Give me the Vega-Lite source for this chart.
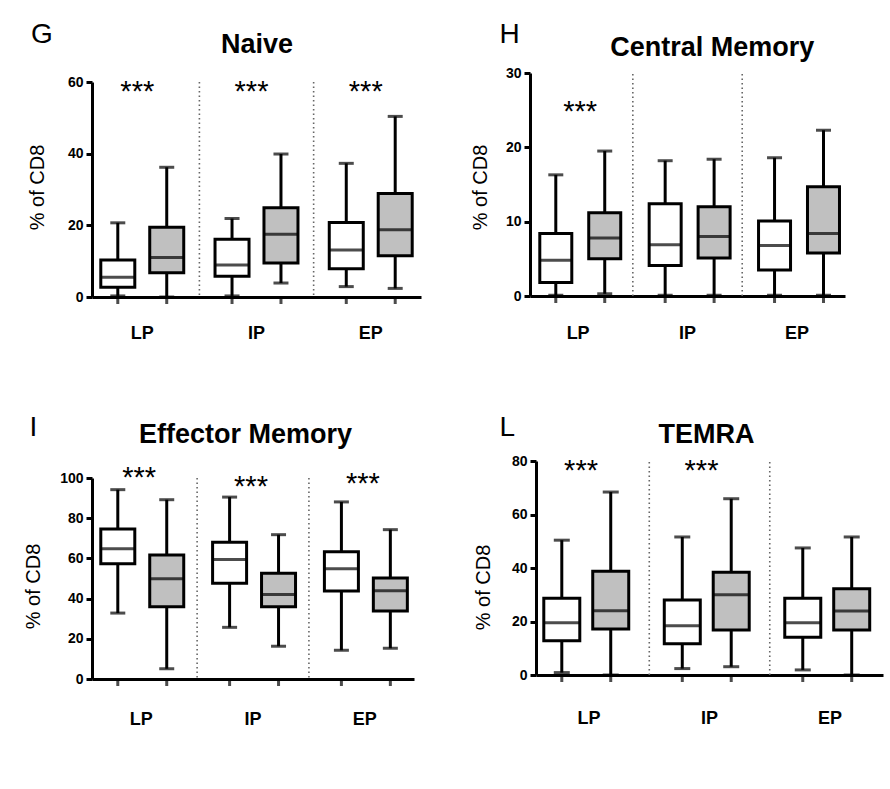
{
  "$schema": "https://vega.github.io/schema/vega-lite/v6.json",
  "padding": {"left": 23, "top": 20, "right": 5, "bottom": 5},
  "background": "white",
  "datasets": {
    "boxes": [
      {"panel": "Naive", "group": "LP", "cond": "A", "min": 0.3, "q1": 2.7, "median": 5.5, "q3": 10.3, "max": 20.7},
      {"panel": "Naive", "group": "LP", "cond": "B", "min": 0, "q1": 6.8, "median": 11, "q3": 19.5, "max": 36.2},
      {"panel": "Naive", "group": "IP", "cond": "A", "min": 0.3, "q1": 5.8, "median": 8.9, "q3": 16.1, "max": 21.9},
      {"panel": "Naive", "group": "IP", "cond": "B", "min": 3.9, "q1": 9.5, "median": 17.5, "q3": 24.9, "max": 39.9},
      {"panel": "Naive", "group": "EP", "cond": "A", "min": 2.9, "q1": 7.9, "median": 13.1, "q3": 20.8, "max": 37.3},
      {"panel": "Naive", "group": "EP", "cond": "B", "min": 2.4, "q1": 11.5, "median": 18.8, "q3": 28.9, "max": 50.4},
      {"panel": "Central Memory", "group": "LP", "cond": "A", "min": 0.1, "q1": 1.8, "median": 4.8, "q3": 8.4, "max": 16.3},
      {"panel": "Central Memory", "group": "LP", "cond": "B", "min": 0.3, "q1": 5.0, "median": 7.8, "q3": 11.2, "max": 19.5},
      {"panel": "Central Memory", "group": "IP", "cond": "A", "min": 0.1, "q1": 4.1, "median": 6.9, "q3": 12.4, "max": 18.2},
      {"panel": "Central Memory", "group": "IP", "cond": "B", "min": 0.1, "q1": 5.1, "median": 8.0, "q3": 12.0, "max": 18.4},
      {"panel": "Central Memory", "group": "EP", "cond": "A", "min": 0.1, "q1": 3.5, "median": 6.8, "q3": 10.1, "max": 18.6},
      {"panel": "Central Memory", "group": "EP", "cond": "B", "min": 0.1, "q1": 5.8, "median": 8.4, "q3": 14.7, "max": 22.3},
      {"panel": "Effector Memory", "group": "LP", "cond": "A", "min": 32.8, "q1": 57.4, "median": 64.8, "q3": 74.6, "max": 94.2},
      {"panel": "Effector Memory", "group": "LP", "cond": "B", "min": 5.1, "q1": 36.0, "median": 49.9, "q3": 61.7, "max": 89.2},
      {"panel": "Effector Memory", "group": "IP", "cond": "A", "min": 25.7, "q1": 47.6, "median": 59.4, "q3": 68.0, "max": 90.5},
      {"panel": "Effector Memory", "group": "IP", "cond": "B", "min": 16.3, "q1": 36.0, "median": 42.0, "q3": 52.6, "max": 71.8},
      {"panel": "Effector Memory", "group": "EP", "cond": "A", "min": 14.3, "q1": 43.8, "median": 54.9, "q3": 63.3, "max": 88.1},
      {"panel": "Effector Memory", "group": "EP", "cond": "B", "min": 15.3, "q1": 33.8, "median": 43.9, "q3": 50.2, "max": 74.3},
      {"panel": "TEMRA", "group": "LP", "cond": "A", "min": 0.9, "q1": 12.8, "median": 19.5, "q3": 28.7, "max": 50.4},
      {"panel": "TEMRA", "group": "LP", "cond": "B", "min": 0, "q1": 17.2, "median": 24.0, "q3": 38.8, "max": 68.4},
      {"panel": "TEMRA", "group": "IP", "cond": "A", "min": 2.4, "q1": 11.7, "median": 18.4, "q3": 28.0, "max": 51.6},
      {"panel": "TEMRA", "group": "IP", "cond": "B", "min": 3.1, "q1": 16.8, "median": 30.0, "q3": 38.4, "max": 65.9},
      {"panel": "TEMRA", "group": "EP", "cond": "A", "min": 1.9, "q1": 14.1, "median": 19.5, "q3": 28.7, "max": 47.5},
      {"panel": "TEMRA", "group": "EP", "cond": "B", "min": 0, "q1": 16.8, "median": 23.9, "q3": 32.2, "max": 51.6}
    ],
    "stars": [
      {"panel": "Naive", "group": "LP", "label": "***", "level": 58.9},
      {"panel": "Naive", "group": "IP", "label": "***", "level": 58.9},
      {"panel": "Naive", "group": "EP", "label": "***", "level": 58.9},
      {"panel": "Central Memory", "group": "LP", "label": "***", "level": 25.6},
      {"panel": "Effector Memory", "group": "LP", "label": "***", "level": 103},
      {"panel": "Effector Memory", "group": "IP", "label": "***", "level": 98.5},
      {"panel": "Effector Memory", "group": "EP", "label": "***", "level": 100.1},
      {"panel": "TEMRA", "group": "LP", "label": "***", "level": 78.5},
      {"panel": "TEMRA", "group": "IP", "label": "***", "level": 78.5}
    ],
    "dividers": [
      {"group": "IP"},
      {"group": "EP"}
    ]
  },
  "config": {
    "view": {"stroke": null},
    "font": "Liberation Sans",
    "axis": {
      "grid": false,
      "labelFont": "Liberation Sans",
      "labelColor": "black",
      "titleFont": "Liberation Sans",
      "titleColor": "black",
      "domainColor": "black",
      "domainWidth": 3,
      "tickColor": "black",
      "tickWidth": 3
    }
  },
  "spacing": 71,
  "vconcat": [
    {
      "spacing": 49,
      "hconcat": [
        {
          "width": 329, "height": 215,
          "data": {"name": "boxes"},
          "transform": [{"filter": "datum.panel === 'Naive'"}],
          "resolve": {"axis": {"x": "independent", "y": "independent"}},
          "layer": [
            {"data": {"name": "dividers"}, "mark": {"type": "rule", "color": "#666666", "strokeDash": [1.5, 3], "strokeWidth": 1.6},
             "encoding": {"x": {"field": "group", "type": "nominal", "bandPosition": -0.068, "axis": null, "scale": {"domain": ["LP", "IP", "EP"], "paddingInner": 0.12, "paddingOuter": 0}}}},
            {"mark": {"type": "rule", "color": "black", "strokeWidth": 3},
             "encoding": {
               "x": {"field": "group", "type": "nominal", "scale": {"domain": ["LP", "IP", "EP"], "paddingInner": 0.12, "paddingOuter": 0},
                     "axis": {"orient": "bottom", "title": null, "ticks": false, "tickSize": 0, "labelAngle": 0, "labelFontSize": 18, "labelFontWeight": "bold", "labelBaseline": "alphabetic", "labelPadding": 41}},
               "xOffset": {"field": "cond", "type": "nominal", "scale": {"domain": ["A", "B"], "paddingInner": 0, "paddingOuter": 0.027}},
               "y": {"field": "min", "type": "quantitative", "scale": {"domain": [0, 60], "nice": false},
                     "axis": {"orient": "left", "values": [0, 20, 40, 60], "title": "% of CD8", "titleFontSize": 20, "titleFontWeight": "normal", "titleAngle": 270, "titleAlign": "center", "titleBaseline": "alphabetic", "titleX": -49, "titleY": 105, "labelFontSize": 14, "labelFontWeight": "bold", "labelPadding": 3, "tickSize": 6}},
               "y2": {"field": "max"}
             }},
            {"mark": {"type": "tick", "orient": "vertical", "color": "black", "thickness": 3, "size": 7, "yOffset": 3.5},
             "encoding": {
               "x": {"field": "group", "type": "nominal", "axis": null},
               "xOffset": {"field": "cond", "type": "nominal"},
               "y": {"datum": 0, "type": "quantitative", "axis": null}
             }},
            {"mark": {"type": "bar", "width": 34, "stroke": "black", "strokeWidth": 3, "fillOpacity": 1},
             "encoding": {
               "x": {"field": "group", "type": "nominal",
                     "axis": {"orient": "top", "title": "Naive", "labels": false, "ticks": false, "domain": false, "titleFontSize": 27, "titleFontWeight": "bold", "titleAngle": 0, "titleAlign": "center", "titleBaseline": "alphabetic", "titleX": 164.5, "titleY": -30}},
               "xOffset": {"field": "cond", "type": "nominal"},
               "y": {"field": "q1", "type": "quantitative",
                     "axis": {"orient": "right", "title": "G", "labels": false, "ticks": false, "domain": false, "titleFontSize": 28, "titleFontWeight": "normal", "titleAngle": 0, "titleAlign": "left", "titleBaseline": "alphabetic", "titleX": -390.5, "titleY": -40}},
               "y2": {"field": "q3"},
               "color": {"field": "cond", "type": "nominal", "scale": {"domain": ["A", "B"], "range": ["white", "#c0c0c0"]}, "legend": null}
             }},
            {"mark": {"type": "tick", "color": "black", "thickness": 3, "size": 34},
             "encoding": {
               "x": {"field": "group", "type": "nominal", "axis": null},
               "xOffset": {"field": "cond", "type": "nominal"},
               "y": {"field": "median", "type": "quantitative", "axis": null}
             }},
            {"mark": {"type": "tick", "color": "black", "thickness": 3, "size": 15},
             "encoding": {
               "x": {"field": "group", "type": "nominal", "axis": null},
               "xOffset": {"field": "cond", "type": "nominal"},
               "y": {"field": "min", "type": "quantitative", "axis": null}
             }},
            {"mark": {"type": "tick", "color": "black", "thickness": 3, "size": 15},
             "encoding": {
               "x": {"field": "group", "type": "nominal", "axis": null},
               "xOffset": {"field": "cond", "type": "nominal"},
               "y": {"field": "max", "type": "quantitative", "axis": null}
             }},
            {"data": {"name": "stars"}, "transform": [{"filter": "datum.panel === 'Naive'"}],
             "mark": {"type": "text", "fontSize": 29, "baseline": "middle", "dx": -5, "dy": 6, "color": "black"},
             "encoding": {
               "x": {"field": "group", "type": "nominal", "axis": null},
               "y": {"field": "level", "type": "quantitative", "axis": null},
               "text": {"field": "label"}
             }}
          ]
        },
        {
          "width": 315, "height": 214,
          "data": {"name": "boxes"},
          "transform": [{"filter": "datum.panel === 'Central Memory'"}],
          "resolve": {"axis": {"x": "independent", "y": "independent"}},
          "layer": [
            {"data": {"name": "dividers"}, "mark": {"type": "rule", "color": "#666666", "strokeDash": [1.5, 3], "strokeWidth": 1.6},
             "encoding": {
               "x": {"field": "group", "type": "nominal", "bandPosition": -0.068, "axis": null, "scale": {"domain": ["LP", "IP", "EP"], "paddingInner": 0.12, "paddingOuter": 0}},
               "y": {"datum": 0, "type": "quantitative", "axis": null},
               "y2": {"datum": 30}
             }},
            {"mark": {"type": "rule", "color": "black", "strokeWidth": 3},
             "encoding": {
               "x": {"field": "group", "type": "nominal", "scale": {"domain": ["LP", "IP", "EP"], "paddingInner": 0.12, "paddingOuter": 0},
                     "axis": {"orient": "bottom", "title": null, "ticks": false, "tickSize": 0, "labelAngle": 0, "labelFontSize": 18, "labelFontWeight": "bold", "labelBaseline": "alphabetic", "labelPadding": 42}},
               "xOffset": {"field": "cond", "type": "nominal", "scale": {"domain": ["A", "B"], "paddingInner": 0, "paddingOuter": 0.027}},
               "y": {"field": "min", "type": "quantitative", "scale": {"domain": [0, 30], "nice": false, "range": [214, -9]},
                     "axis": {"orient": "left", "values": [0, 10, 20, 30], "title": "% of CD8", "titleFontSize": 20, "titleFontWeight": "normal", "titleAngle": 270, "titleAlign": "center", "titleBaseline": "alphabetic", "titleX": -44, "titleY": 105, "labelFontSize": 14, "labelFontWeight": "bold", "labelPadding": 3, "tickSize": 6}},
               "y2": {"field": "max"}
             }},
            {"mark": {"type": "tick", "orient": "vertical", "color": "black", "thickness": 3, "size": 7, "yOffset": 3.5},
             "encoding": {
               "x": {"field": "group", "type": "nominal", "axis": null},
               "xOffset": {"field": "cond", "type": "nominal"},
               "y": {"datum": 0, "type": "quantitative", "axis": null}
             }},
            {"mark": {"type": "bar", "width": 32, "stroke": "black", "strokeWidth": 3, "fillOpacity": 1},
             "encoding": {
               "x": {"field": "group", "type": "nominal",
                     "axis": {"orient": "top", "title": "Central Memory", "labels": false, "ticks": false, "domain": false, "titleFontSize": 27, "titleFontWeight": "bold", "titleAngle": 0, "titleAlign": "center", "titleBaseline": "alphabetic", "titleX": 181.7, "titleY": -27}},
               "xOffset": {"field": "cond", "type": "nominal"},
               "y": {"field": "q1", "type": "quantitative",
                     "axis": {"orient": "right", "title": "H", "labels": false, "ticks": false, "domain": false, "titleFontSize": 28, "titleFontWeight": "normal", "titleAngle": 0, "titleAlign": "left", "titleBaseline": "alphabetic", "titleX": -346, "titleY": -40}},
               "y2": {"field": "q3"},
               "color": {"field": "cond", "type": "nominal", "scale": {"domain": ["A", "B"], "range": ["white", "#c0c0c0"]}, "legend": null}
             }},
            {"mark": {"type": "tick", "color": "black", "thickness": 3, "size": 32},
             "encoding": {
               "x": {"field": "group", "type": "nominal", "axis": null},
               "xOffset": {"field": "cond", "type": "nominal"},
               "y": {"field": "median", "type": "quantitative", "axis": null}
             }},
            {"mark": {"type": "tick", "color": "black", "thickness": 3, "size": 15},
             "encoding": {
               "x": {"field": "group", "type": "nominal", "axis": null},
               "xOffset": {"field": "cond", "type": "nominal"},
               "y": {"field": "min", "type": "quantitative", "axis": null}
             }},
            {"mark": {"type": "tick", "color": "black", "thickness": 3, "size": 15},
             "encoding": {
               "x": {"field": "group", "type": "nominal", "axis": null},
               "xOffset": {"field": "cond", "type": "nominal"},
               "y": {"field": "max", "type": "quantitative", "axis": null}
             }},
            {"data": {"name": "stars"}, "transform": [{"filter": "datum.panel === 'Central Memory'"}],
             "mark": {"type": "text", "fontSize": 29, "baseline": "middle", "dx": 2, "dy": 6, "color": "black"},
             "encoding": {
               "x": {"field": "group", "type": "nominal", "axis": null},
               "y": {"field": "level", "type": "quantitative", "axis": null},
               "text": {"field": "label"}
             }}
          ]
        }
      ]
    },
    {
      "spacing": 59,
      "hconcat": [
        {
          "width": 322, "height": 201,
          "data": {"name": "boxes"},
          "transform": [{"filter": "datum.panel === 'Effector Memory'"}],
          "resolve": {"axis": {"x": "independent", "y": "independent"}},
          "layer": [
            {"data": {"name": "dividers"}, "mark": {"type": "rule", "color": "#666666", "strokeDash": [1.5, 3], "strokeWidth": 1.6},
             "encoding": {"x": {"field": "group", "type": "nominal", "bandPosition": -0.068, "axis": null, "scale": {"domain": ["LP", "IP", "EP"], "paddingInner": 0.12, "paddingOuter": 0}}}},
            {"mark": {"type": "rule", "color": "black", "strokeWidth": 3},
             "encoding": {
               "x": {"field": "group", "type": "nominal", "scale": {"domain": ["LP", "IP", "EP"], "paddingInner": 0.12, "paddingOuter": 0},
                     "axis": {"orient": "bottom", "title": null, "ticks": false, "tickSize": 0, "labelAngle": 0, "labelFontSize": 18, "labelFontWeight": "bold", "labelBaseline": "alphabetic", "labelPadding": 45}},
               "xOffset": {"field": "cond", "type": "nominal", "scale": {"domain": ["A", "B"], "paddingInner": 0, "paddingOuter": 0.027}},
               "y": {"field": "min", "type": "quantitative", "scale": {"domain": [0, 100], "nice": false},
                     "axis": {"orient": "left", "values": [0, 20, 40, 60, 80, 100], "title": "% of CD8", "titleFontSize": 20, "titleFontWeight": "normal", "titleAngle": 270, "titleAlign": "center", "titleBaseline": "alphabetic", "titleX": -52.7, "titleY": 108, "labelFontSize": 14, "labelFontWeight": "bold", "labelPadding": 3, "tickSize": 6}},
               "y2": {"field": "max"}
             }},
            {"mark": {"type": "tick", "orient": "vertical", "color": "black", "thickness": 3, "size": 7, "yOffset": 3.5},
             "encoding": {
               "x": {"field": "group", "type": "nominal", "axis": null},
               "xOffset": {"field": "cond", "type": "nominal"},
               "y": {"datum": 0, "type": "quantitative", "axis": null}
             }},
            {"mark": {"type": "bar", "width": 34, "stroke": "black", "strokeWidth": 3, "fillOpacity": 1},
             "encoding": {
               "x": {"field": "group", "type": "nominal",
                     "axis": {"orient": "top", "title": "Effector Memory", "labels": false, "ticks": false, "domain": false, "titleFontSize": 27, "titleFontWeight": "bold", "titleAngle": 0, "titleAlign": "center", "titleBaseline": "alphabetic", "titleX": 153, "titleY": -36}},
               "xOffset": {"field": "cond", "type": "nominal"},
               "y": {"field": "q1", "type": "quantitative",
                     "axis": {"orient": "right", "title": "I", "labels": false, "ticks": false, "domain": false, "titleFontSize": 28, "titleFontWeight": "normal", "titleAngle": 0, "titleAlign": "left", "titleBaseline": "alphabetic", "titleX": -385, "titleY": -43}},
               "y2": {"field": "q3"},
               "color": {"field": "cond", "type": "nominal", "scale": {"domain": ["A", "B"], "range": ["white", "#c0c0c0"]}, "legend": null}
             }},
            {"mark": {"type": "tick", "color": "black", "thickness": 3, "size": 34},
             "encoding": {
               "x": {"field": "group", "type": "nominal", "axis": null},
               "xOffset": {"field": "cond", "type": "nominal"},
               "y": {"field": "median", "type": "quantitative", "axis": null}
             }},
            {"mark": {"type": "tick", "color": "black", "thickness": 3, "size": 15},
             "encoding": {
               "x": {"field": "group", "type": "nominal", "axis": null},
               "xOffset": {"field": "cond", "type": "nominal"},
               "y": {"field": "min", "type": "quantitative", "axis": null}
             }},
            {"mark": {"type": "tick", "color": "black", "thickness": 3, "size": 15},
             "encoding": {
               "x": {"field": "group", "type": "nominal", "axis": null},
               "xOffset": {"field": "cond", "type": "nominal"},
               "y": {"field": "max", "type": "quantitative", "axis": null}
             }},
            {"data": {"name": "stars"}, "transform": [{"filter": "datum.panel === 'Effector Memory'"}],
             "mark": {"type": "text", "fontSize": 29, "baseline": "middle", "dx": -2, "dy": 6, "color": "black"},
             "encoding": {
               "x": {"field": "group", "type": "nominal", "axis": null},
               "y": {"field": "level", "type": "quantitative", "axis": null},
               "text": {"field": "label"}
             }}
          ]
        },
        {
          "width": 347, "height": 197,
          "data": {"name": "boxes"},
          "transform": [{"filter": "datum.panel === 'TEMRA'"}],
          "resolve": {"axis": {"x": "independent", "y": "independent"}},
          "layer": [
            {"data": {"name": "dividers"}, "mark": {"type": "rule", "color": "#666666", "strokeDash": [1.5, 3], "strokeWidth": 1.6},
             "encoding": {
               "x": {"field": "group", "type": "nominal", "bandPosition": -0.068, "axis": null, "scale": {"domain": ["LP", "IP", "EP"], "paddingInner": 0.12, "paddingOuter": 0}},
               "y": {"datum": 0, "type": "quantitative", "axis": null},
               "y2": {"datum": 80}
             }},
            {"mark": {"type": "rule", "color": "black", "strokeWidth": 3},
             "encoding": {
               "x": {"field": "group", "type": "nominal", "scale": {"domain": ["LP", "IP", "EP"], "paddingInner": 0.12, "paddingOuter": 0},
                     "axis": {"orient": "bottom", "title": null, "ticks": false, "tickSize": 0, "labelAngle": 0, "labelFontSize": 18, "labelFontWeight": "bold", "labelBaseline": "alphabetic", "labelPadding": 48}},
               "xOffset": {"field": "cond", "type": "nominal", "scale": {"domain": ["A", "B"], "paddingInner": 0, "paddingOuter": 0.027}},
               "y": {"field": "min", "type": "quantitative", "scale": {"domain": [0, 80], "nice": false, "range": [197, -17]},
                     "axis": {"orient": "left", "values": [0, 20, 40, 60, 80], "title": "% of CD8", "titleFontSize": 20, "titleFontWeight": "normal", "titleAngle": 270, "titleAlign": "center", "titleBaseline": "alphabetic", "titleX": -46.3, "titleY": 109, "labelFontSize": 14, "labelFontWeight": "bold", "labelPadding": 3, "tickSize": 6}},
               "y2": {"field": "max"}
             }},
            {"mark": {"type": "tick", "orient": "vertical", "color": "black", "thickness": 3, "size": 7, "yOffset": 3.5},
             "encoding": {
               "x": {"field": "group", "type": "nominal", "axis": null},
               "xOffset": {"field": "cond", "type": "nominal"},
               "y": {"datum": 0, "type": "quantitative", "axis": null}
             }},
            {"mark": {"type": "bar", "width": 36, "stroke": "black", "strokeWidth": 3, "fillOpacity": 1},
             "encoding": {
               "x": {"field": "group", "type": "nominal",
                     "axis": {"orient": "top", "title": "TEMRA", "labels": false, "ticks": false, "domain": false, "titleFontSize": 27, "titleFontWeight": "bold", "titleAngle": 0, "titleAlign": "center", "titleBaseline": "alphabetic", "titleX": 170, "titleY": -36}},
               "xOffset": {"field": "cond", "type": "nominal"},
               "y": {"field": "q1", "type": "quantitative",
                     "axis": {"orient": "right", "title": "L", "labels": false, "ticks": false, "domain": false, "titleFontSize": 28, "titleFontWeight": "normal", "titleAngle": 0, "titleAlign": "left", "titleBaseline": "alphabetic", "titleX": -384, "titleY": -43}},
               "y2": {"field": "q3"},
               "color": {"field": "cond", "type": "nominal", "scale": {"domain": ["A", "B"], "range": ["white", "#c0c0c0"]}, "legend": null}
             }},
            {"mark": {"type": "tick", "color": "black", "thickness": 3, "size": 36},
             "encoding": {
               "x": {"field": "group", "type": "nominal", "axis": null},
               "xOffset": {"field": "cond", "type": "nominal"},
               "y": {"field": "median", "type": "quantitative", "axis": null}
             }},
            {"mark": {"type": "tick", "color": "black", "thickness": 3, "size": 16},
             "encoding": {
               "x": {"field": "group", "type": "nominal", "axis": null},
               "xOffset": {"field": "cond", "type": "nominal"},
               "y": {"field": "min", "type": "quantitative", "axis": null}
             }},
            {"mark": {"type": "tick", "color": "black", "thickness": 3, "size": 16},
             "encoding": {
               "x": {"field": "group", "type": "nominal", "axis": null},
               "xOffset": {"field": "cond", "type": "nominal"},
               "y": {"field": "max", "type": "quantitative", "axis": null}
             }},
            {"data": {"name": "stars"}, "transform": [{"filter": "datum.panel === 'TEMRA'"}],
             "mark": {"type": "text", "fontSize": 29, "baseline": "middle", "dx": -8, "dy": 6, "color": "black"},
             "encoding": {
               "x": {"field": "group", "type": "nominal", "axis": null},
               "y": {"field": "level", "type": "quantitative", "axis": null},
               "text": {"field": "label"}
             }}
          ]
        }
      ]
    }
  ]
}
